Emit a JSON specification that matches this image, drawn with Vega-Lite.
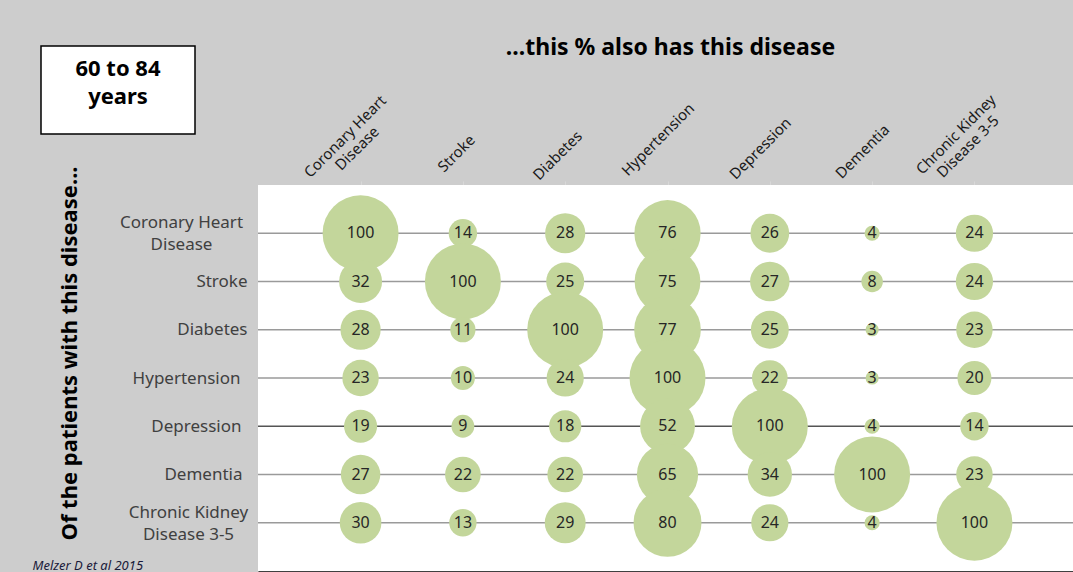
{
  "$schema": "https://vega.github.io/schema/vega-lite/v6.json",
  "autosize": {"type": "none"},
  "padding": {"left": 258, "top": 185, "right": 0, "bottom": 1},
  "width": 815,
  "height": 386,
  "background": "#cdcdcd",
  "config": {
    "view": {"stroke": null},
    "font": "Noto Sans",
    "legend": {"strokeWidth": 1.5}
  },
  "datasets": {
    "rows": [
      {"row": "Coronary Heart Disease"}, {"row": "Stroke"}, {"row": "Diabetes"}, {"row": "Hypertension"},
      {"row": "Depression"}, {"row": "Dementia"}, {"row": "Chronic Kidney Disease 3-5"}
    ],
    "cells": [
      {"row": "Coronary Heart Disease", "col": "Coronary Heart Disease", "v": 100},
      {"row": "Coronary Heart Disease", "col": "Stroke", "v": 14},
      {"row": "Coronary Heart Disease", "col": "Diabetes", "v": 28},
      {"row": "Coronary Heart Disease", "col": "Hypertension", "v": 76},
      {"row": "Coronary Heart Disease", "col": "Depression", "v": 26},
      {"row": "Coronary Heart Disease", "col": "Dementia", "v": 4},
      {"row": "Coronary Heart Disease", "col": "Chronic Kidney Disease 3-5", "v": 24},
      {"row": "Stroke", "col": "Coronary Heart Disease", "v": 32},
      {"row": "Stroke", "col": "Stroke", "v": 100},
      {"row": "Stroke", "col": "Diabetes", "v": 25},
      {"row": "Stroke", "col": "Hypertension", "v": 75},
      {"row": "Stroke", "col": "Depression", "v": 27},
      {"row": "Stroke", "col": "Dementia", "v": 8},
      {"row": "Stroke", "col": "Chronic Kidney Disease 3-5", "v": 24},
      {"row": "Diabetes", "col": "Coronary Heart Disease", "v": 28},
      {"row": "Diabetes", "col": "Stroke", "v": 11},
      {"row": "Diabetes", "col": "Diabetes", "v": 100},
      {"row": "Diabetes", "col": "Hypertension", "v": 77},
      {"row": "Diabetes", "col": "Depression", "v": 25},
      {"row": "Diabetes", "col": "Dementia", "v": 3},
      {"row": "Diabetes", "col": "Chronic Kidney Disease 3-5", "v": 23},
      {"row": "Hypertension", "col": "Coronary Heart Disease", "v": 23},
      {"row": "Hypertension", "col": "Stroke", "v": 10},
      {"row": "Hypertension", "col": "Diabetes", "v": 24},
      {"row": "Hypertension", "col": "Hypertension", "v": 100},
      {"row": "Hypertension", "col": "Depression", "v": 22},
      {"row": "Hypertension", "col": "Dementia", "v": 3},
      {"row": "Hypertension", "col": "Chronic Kidney Disease 3-5", "v": 20},
      {"row": "Depression", "col": "Coronary Heart Disease", "v": 19},
      {"row": "Depression", "col": "Stroke", "v": 9},
      {"row": "Depression", "col": "Diabetes", "v": 18},
      {"row": "Depression", "col": "Hypertension", "v": 52},
      {"row": "Depression", "col": "Depression", "v": 100},
      {"row": "Depression", "col": "Dementia", "v": 4},
      {"row": "Depression", "col": "Chronic Kidney Disease 3-5", "v": 14},
      {"row": "Dementia", "col": "Coronary Heart Disease", "v": 27},
      {"row": "Dementia", "col": "Stroke", "v": 22},
      {"row": "Dementia", "col": "Diabetes", "v": 22},
      {"row": "Dementia", "col": "Hypertension", "v": 65},
      {"row": "Dementia", "col": "Depression", "v": 34},
      {"row": "Dementia", "col": "Dementia", "v": 100},
      {"row": "Dementia", "col": "Chronic Kidney Disease 3-5", "v": 23},
      {"row": "Chronic Kidney Disease 3-5", "col": "Coronary Heart Disease", "v": 30},
      {"row": "Chronic Kidney Disease 3-5", "col": "Stroke", "v": 13},
      {"row": "Chronic Kidney Disease 3-5", "col": "Diabetes", "v": 29},
      {"row": "Chronic Kidney Disease 3-5", "col": "Hypertension", "v": 80},
      {"row": "Chronic Kidney Disease 3-5", "col": "Depression", "v": 24},
      {"row": "Chronic Kidney Disease 3-5", "col": "Dementia", "v": 4},
      {"row": "Chronic Kidney Disease 3-5", "col": "Chronic Kidney Disease 3-5", "v": 100}
    ]
  },
  "data": {"name": "cells"},
  "resolve": {"axis": {"x": "independent", "y": "shared"}},
  "layer": [
    {
      "mark": {"type": "rect", "color": "#ffffff"},
      "encoding": {}
    },
    {
      "data": {"name": "rows"},
      "mark": {"type": "rule", "strokeWidth": 1.5},
      "encoding": {
        "y": {
          "field": "row", "type": "nominal",
          "scale": {"type": "point", "padding": 1,
            "domain": ["Coronary Heart Disease", "Stroke", "Diabetes", "Hypertension", "Depression", "Dementia", "Chronic Kidney Disease 3-5"]},
          "axis": {
            "orient": "left",
            "title": "Of the patients with this disease...",
            "titleFontSize": 22, "titleFontWeight": "bold", "titleColor": "#000000",
            "titleX": -189, "titleY": 168, "titleAlign": "center", "titleBaseline": "middle", "titleAngle": 270,
            "domain": false, "ticks": false, "grid": false,
            "labelFontSize": 17, "labelColor": "#404040", "labelLineHeight": 22, "labelBaseline": "middle",
            "labelLimit": 300, "labelOverlap": false,
            "labelExpr": "datum.value === 'Coronary Heart Disease' ? ['Coronary Heart', 'Disease'] : datum.value === 'Chronic Kidney Disease 3-5' ? ['Chronic Kidney', 'Disease 3-5'] : datum.label",
            "labelAlign": {"condition": {"test": "datum.value === 'Coronary Heart Disease' || datum.value === 'Chronic Kidney Disease 3-5'", "value": "center"}, "value": "right"},
            "labelOffset": {"condition": [
              {"test": "datum.value === 'Coronary Heart Disease'", "value": -10.5},
              {"test": "datum.value === 'Chronic Kidney Disease 3-5'", "value": -10}
            ], "value": 0},
            "labelPadding": {"condition": [
              {"test": "datum.value === 'Coronary Heart Disease'", "value": 77},
              {"test": "datum.value === 'Chronic Kidney Disease 3-5'", "value": 70},
              {"test": "datum.value === 'Stroke'", "value": 11},
              {"test": "datum.value === 'Diabetes'", "value": 11},
              {"test": "datum.value === 'Hypertension'", "value": 18},
              {"test": "datum.value === 'Depression'", "value": 17}
            ], "value": 16}
          }
        },
        "color": {"condition": {"test": "datum.row === 'Depression'", "value": "#555555"}, "value": "#9a9a9a"}
      }
    },
    {
      "mark": {"type": "circle", "color": "#c3d69b", "opacity": 1},
      "encoding": {
        "x": {
          "field": "col", "type": "nominal",
          "scale": {"type": "point", "padding": 0.983, "align": 0.51,
            "domain": ["Coronary Heart Disease", "Stroke", "Diabetes", "Hypertension", "Depression", "Dementia", "Chronic Kidney Disease 3-5"]},
          "axis": {
            "orient": "top",
            "title": "...this % also has this disease",
            "titleFontSize": 23, "titleFontWeight": "bold", "titleColor": "#000000",
            "titleX": 412, "titleY": -138, "titleAlign": "center", "titleBaseline": "middle", "titleAngle": 0,
            "domain": false, "grid": false,
            "ticks": true, "tickColor": "#d8d8d8", "tickSize": 4, "tickWidth": 1,
            "labelAngle": -45, "labelAlign": "center", "labelBaseline": "middle",
            "labelFontSize": 15, "labelColor": "#1a1a1a", "labelLineHeight": 17,
            "labelOverlap": false, "labelBound": false, "labelFlush": false, "labelLimit": 300,
            "labelExpr": "datum.value === 'Coronary Heart Disease' ? ['Coronary Heart', 'Disease'] : datum.value === 'Chronic Kidney Disease 3-5' ? ['Chronic Kidney', 'Disease 3-5'] : datum.label",
            "labelOffset": {"condition": [
              {"test": "datum.value === 'Coronary Heart Disease'", "value": -16},
              {"test": "datum.value === 'Stroke'", "value": -7},
              {"test": "datum.value === 'Diabetes'", "value": -8},
              {"test": "datum.value === 'Chronic Kidney Disease 3-5'", "value": -19}
            ], "value": -10},
            "labelPadding": {"condition": [
              {"test": "datum.value === 'Coronary Heart Disease'", "value": 45},
              {"test": "datum.value === 'Stroke'", "value": 28},
              {"test": "datum.value === 'Diabetes'", "value": 26},
              {"test": "datum.value === 'Hypertension'", "value": 42},
              {"test": "datum.value === 'Depression'", "value": 33},
              {"test": "datum.value === 'Dementia'", "value": 30},
              {"test": "datum.value === 'Chronic Kidney Disease 3-5'", "value": 47}
            ], "value": 35}
          }
        },
        "y": {"field": "row", "type": "nominal"},
        "size": {"field": "v", "type": "quantitative", "scale": {"domain": [0, 100], "range": [0, 5776], "zero": true}, "legend": null}
      }
    },
    {
      "mark": {"type": "text", "fontSize": 16, "color": "#262626", "baseline": "middle", "align": "center"},
      "encoding": {
        "x": {"field": "col", "type": "nominal", "axis": null},
        "y": {"field": "row", "type": "nominal"},
        "text": {"field": "v", "type": "quantitative"}
      }
    },
    {
      "mark": {"type": "text", "text": ""},
      "encoding": {
        "x": {
          "field": "col", "type": "nominal",
          "axis": {
            "orient": "bottom", "labels": false, "grid": false,
            "domain": true, "domainColor": "#404040", "domainWidth": 1.5,
            "ticks": true, "tickColor": "#404040", "tickSize": 5,
            "title": "Melzer D et al 2015",
            "titleFontSize": 13, "titleFontStyle": "italic", "titleFontWeight": "normal", "titleColor": "#1a1a3a",
            "titleX": -226, "titleY": -6, "titleAlign": "left", "titleBaseline": "middle"
          }
        }
      }
    },
    {
      "mark": {"type": "point", "opacity": 0},
      "encoding": {
        "shape": {
          "datum": "60 to 84 years",
          "legend": {
            "orient": "none", "legendX": -217, "legendY": -139,
            "title": ["60 to 84", "years"],
            "titleFontSize": 22, "titleFontWeight": "bold", "titleColor": "#000000",
            "titleLineHeight": 28, "titleAnchor": "middle", "titleAlign": "center", "titlePadding": 11,
            "padding": 13,
            "fillColor": "#ffffff", "strokeColor": "#000000",
            "symbolSize": 0, "symbolOpacity": 0, "symbolStrokeWidth": 0,
            "labelOpacity": 0, "labelFontSize": 1, "labelOffset": 120
          }
        }
      }
    }
  ]
}
